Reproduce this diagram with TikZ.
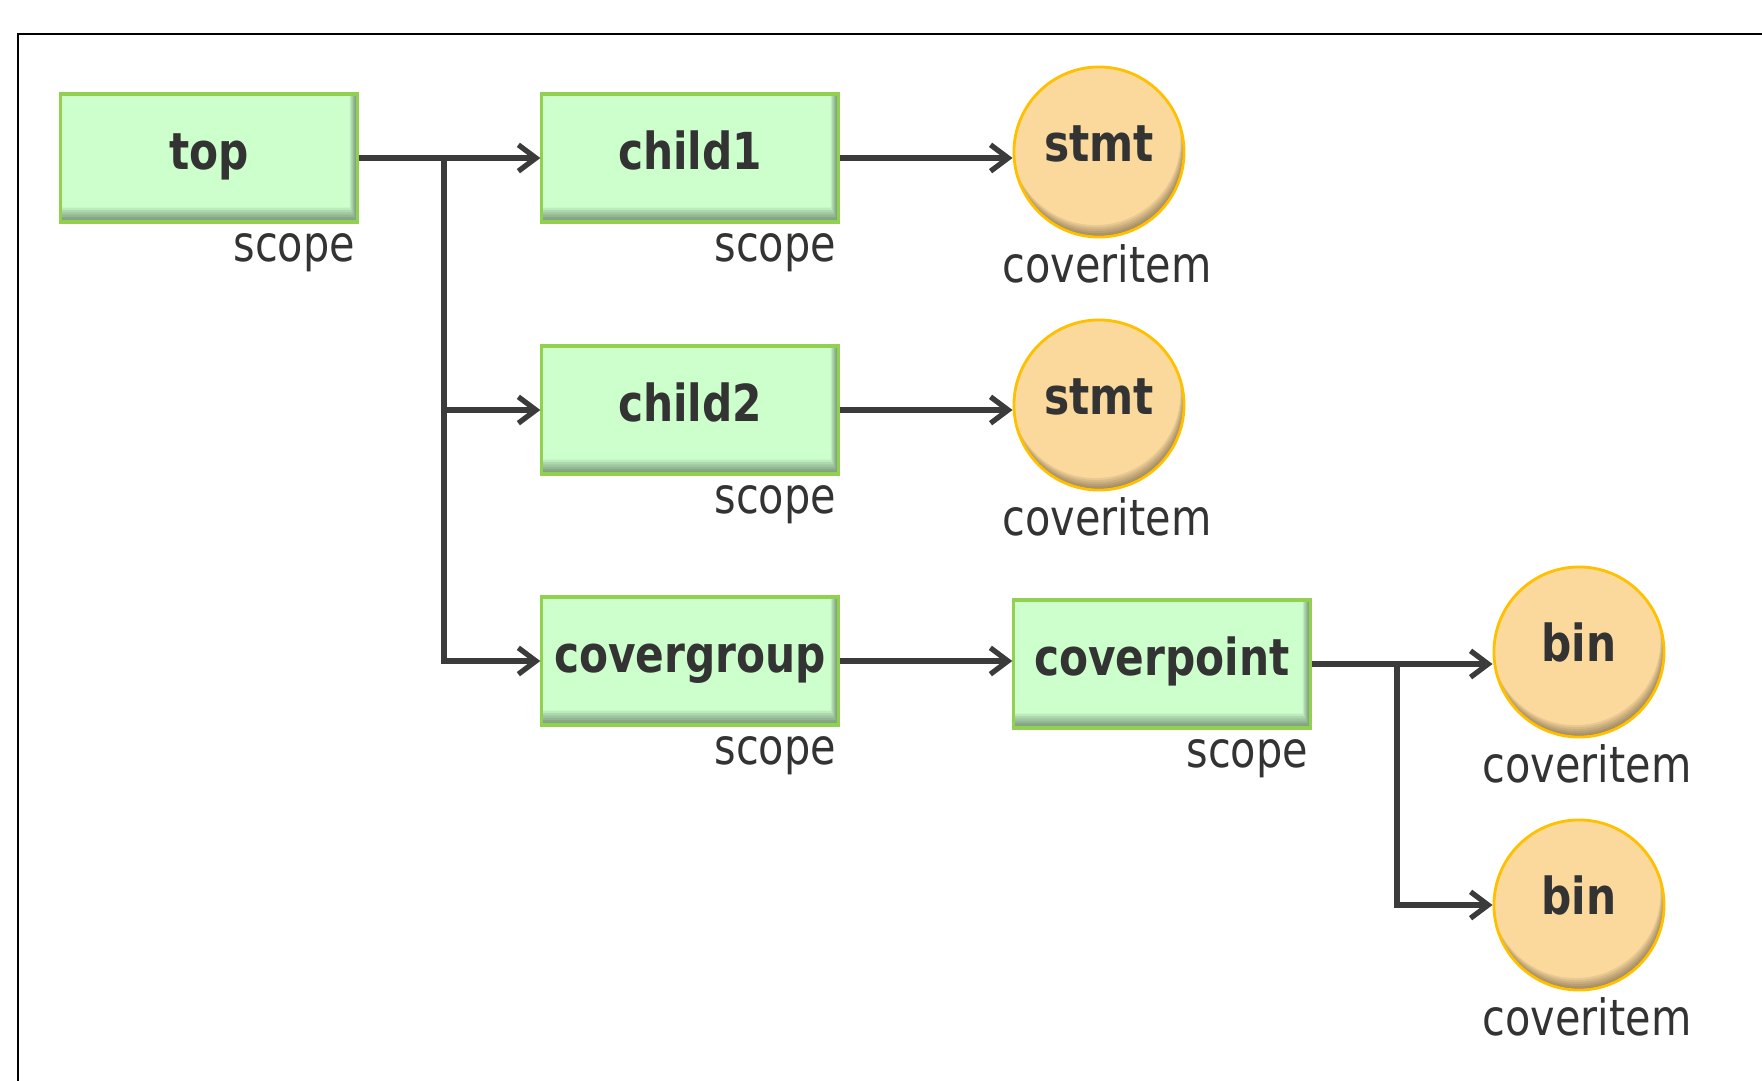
\documentclass[tikz,border=0pt]{standalone}
\usepackage{fontspec}
\setmainfont{DejaVu Sans}[FakeStretch=0.83]
\usepackage{tikz}
\usetikzlibrary{arrows.meta, positioning, calc}
\definecolor{scopefill}{RGB}{204,255,204}
\definecolor{scopeedge}{RGB}{146,208,80}
\definecolor{itemfill}{RGB}{251,217,157}
\definecolor{itemedge}{RGB}{255,192,0}
\definecolor{ink}{RGB}{51,51,51}
\definecolor{wire}{RGB}{59,59,59}

\begin{document}
\begin{tikzpicture}[
    x=0.01cm, y=-0.01cm,
    scopebox/.style={
      draw=scopeedge, fill=scopefill, line width=0.9pt,
      minimum width=2.96cm, minimum height=1.28cm, inner sep=0pt,
      text height=0.76em, text depth=0.10em, text=ink,
      font=\fontsize{14.5pt}{16pt}\selectfont\bfseries,
      path picture={
        \foreach \k in {1,...,6}
          \fill[black, opacity=0.08, even odd rule]
            (path picture bounding box.south west) rectangle (path picture bounding box.north east)
            ($(path picture bounding box.south west)+(-1cm,\k*0.024cm)$) rectangle
            ($(path picture bounding box.north east)+(-\k*0.012cm,1cm)$);
      }
    },
    itembox/.style={
      circle, draw=itemedge, fill=itemfill, line width=0.8pt,
      minimum size=1.70cm, inner sep=0pt,
      text height=0.76em, text depth=0.20em, text=ink,
      font=\fontsize{14.5pt}{16pt}\selectfont\bfseries,
      path picture={
        \foreach \k in {1,...,6}
          \fill[black, opacity=0.07, even odd rule]
            (path picture bounding box.south west) rectangle (path picture bounding box.north east)
            ($(path picture bounding box.center)+(-\k*0.006cm,\k*0.02cm)$) circle[radius=0.85cm];
      }
    },
    kind/.style={font=\fontsize{14.2pt}{16pt}\selectfont, text=ink, inner sep=0pt},
    link/.style={draw=wire, line width=1.5pt, -{Straight Barb[length=5pt, width=7.5pt]}}
  ]
    \useasboundingbox (0,0) rectangle (1762,1081);

    % Frame, cut off at right and bottom
    \draw[line width=0.7pt] (18,1081) -- (18,34) -- (1762,34);

    % Scopes
    \node[scopebox] (top) at (209,158) {top};
    \node[scopebox] (child1) at (690,158) {child1};
    \node[scopebox] (child2) at (690,410) {child2};
    \node[scopebox] (covergroup) at (690,661) {covergroup};
    \node[scopebox] (coverpoint) at (1162,664) {coverpoint};

    % Cover items
    \node[itembox] (stmt1) at (1099,152) {stmt};
    \node[itembox] (stmt2) at (1099,405) {stmt};
    \node[itembox] (bin1) at (1579,652) {bin};
    \node[itembox] (bin2) at (1579,905) {bin};

    % Kind labels
    \foreach \n in {top, child1, child2, covergroup, coverpoint}
      \node[kind, below left=0.09cm and 0.03cm of \n.south east] (\n-kind) {scope};
    \foreach \n in {stmt1, stmt2, bin1, bin2}
      \node[kind, below=0.05cm of \n, xshift=0.08cm] (\n-kind) {coveritem};

    % Connectors
    \coordinate (fork) at (444,158);
    \draw[link] (top.east) -- (child1.west);
    \draw[link] (fork) |- (child2.west);
    \draw[link] (fork) |- (covergroup.west);
    \draw[link] (child1.east) -- (child1.east -| stmt1.west);
    \draw[link] (child2.east) -- (child2.east -| stmt2.west);
    \draw[link] (covergroup.east) -- (covergroup.east -| coverpoint.west);

    \coordinate (split) at (1397,662);
    \draw[link] (coverpoint.east) -- (coverpoint.east -| bin1.west);
    \draw[link] (split) |- (bin2.west);
  \end{tikzpicture}
\end{document}
